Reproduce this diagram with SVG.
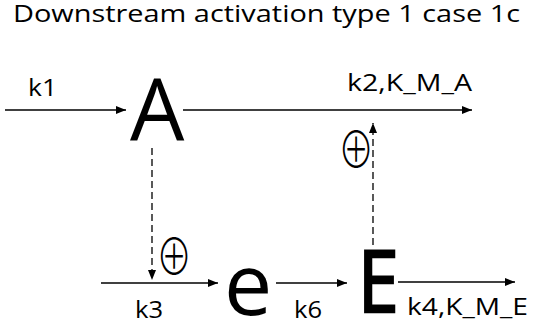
<svg xmlns="http://www.w3.org/2000/svg" width="533" height="328" viewBox="0 0 533 328">
<style>
.t{font-family:"Open Sans","Liberation Sans",sans-serif;fill:#000}
.lbl{font-size:23px}
.big{font-size:86px}
.sym{font-family:"Noto Sans CJK JP",sans-serif;font-weight:300;font-size:42px;fill:#000}
.ln{stroke:#000;stroke-width:1.5;fill:none}
.dash{stroke:#000;stroke-width:1.3;fill:none;stroke-dasharray:7,4}
</style>
<defs>
<marker id="ah" markerWidth="10" markerHeight="8" refX="10" refY="4" orient="auto" markerUnits="userSpaceOnUse">
<path d="M0,0 L10,4 L0,8 Z" fill="#000"/>
</marker>
</defs>
<text class="t" x="13" y="22" font-size="24" textLength="507" lengthAdjust="spacingAndGlyphs">Downstream activation type 1 case 1c</text>
<g id="connectors">
<line class="ln" x1="5" y1="110" x2="126" y2="110" marker-end="url(#ah)"/>
<line class="ln" x1="183" y1="110" x2="472" y2="110" marker-end="url(#ah)"/>
<line class="dash" x1="152" y1="148" x2="152" y2="280" marker-end="url(#ah)"/>
<line class="dash" x1="373" y1="245" x2="373" y2="123" marker-end="url(#ah)"/>
<line class="ln" x1="101" y1="283" x2="218" y2="283" marker-end="url(#ah)"/>
<line class="ln" x1="276" y1="283" x2="347" y2="283" marker-end="url(#ah)"/>
<line class="ln" x1="398" y1="282" x2="515" y2="282" marker-end="url(#ah)"/>
<text class="t lbl" x="28" y="96" textLength="29" lengthAdjust="spacingAndGlyphs">k1</text>
<text class="t lbl" x="347" y="91" textLength="125" lengthAdjust="spacingAndGlyphs">k2,K_M_A</text>
<text class="t lbl" x="135" y="318" textLength="28" lengthAdjust="spacingAndGlyphs">k3</text>
<text class="t lbl" x="294" y="318" textLength="28" lengthAdjust="spacingAndGlyphs">k6</text>
<text class="t lbl" x="407" y="315" textLength="121" lengthAdjust="spacingAndGlyphs">k4,K_M_E</text>
<text class="sym" text-anchor="middle" dominant-baseline="central" transform="translate(356,146) scale(0.85,1.2)">⊕</text>
<text class="sym" text-anchor="middle" dominant-baseline="central" transform="translate(174,253) scale(0.85,1.2)">⊕</text>
</g>
<g id="node-A"><text class="t big" x="130" y="141">A</text></g>
<g id="node-e"><text class="t big" x="224" y="315">e</text></g>
<g id="node-E"><text class="t big" stroke="#000" stroke-width="2.5" transform="translate(358,312) scale(0.85,1)">E</text></g>
</svg>
